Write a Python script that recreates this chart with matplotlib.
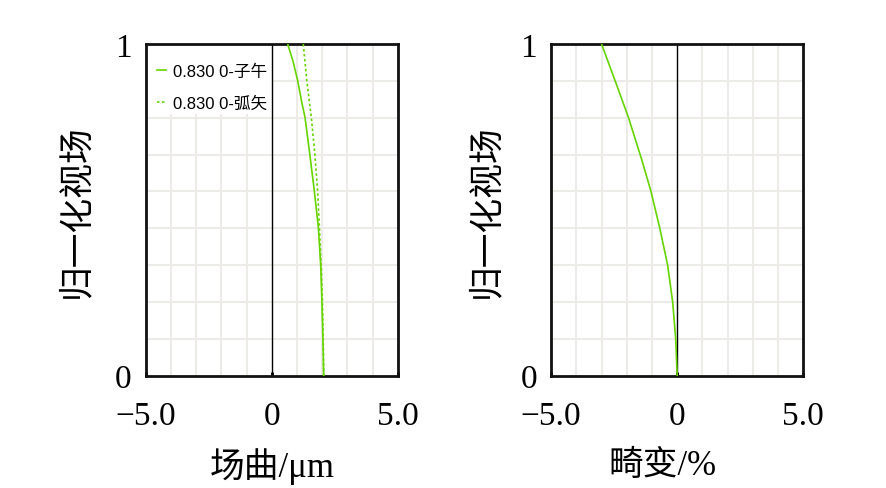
import numpy as np
import matplotlib
matplotlib.use("Agg")
import matplotlib.pyplot as plt
from matplotlib.patches import Rectangle

# Data
field_t = [0, 1/9, 2/9, 3/9, 4/9, 5/9, 6/9, 7/9, 0.828, 8/9, 0.949, 1.0]
tangential = [2.06, 2.03, 1.99, 1.94, 1.85, 1.69, 1.51, 1.32, 1.18, 1.03, 0.84, 0.63]
field_s = [0, 1/9, 2/9, 3/9, 4/9, 5/9, 6/9, 7/9, 8/9, 1.0]
sagittal = [2.06, 2.04, 2.01, 1.96, 1.89, 1.82, 1.71, 1.57, 1.39, 1.25]
field_d = [0, 1/9, 2/9, 3/9, 4/9, 5/9, 0.652, 7/9, 8/9, 1.0]
distortion = [0.0, -0.06, -0.18, -0.38, -0.69, -1.04, -1.41, -1.93, -2.46, -3.00]

xticks = [-5, 0, 5]
xticklabels = ["\u22125.0", "0", "5.0"]
yticks = [0, 1]
yticklabels = ["0", "1"]
legend_labels = ["0.830 0-子午", "0.830 0-弧矢"]
xlabels = ["场曲/μm", "畸变/%"]
ylabel = "归一化视场"

green = "#66d400"
serif_cjk = ["Liberation Serif", "Noto Sans CJK SC"]
sans_cjk = ["Liberation Sans", "Noto Sans CJK SC"]

fig = plt.figure(figsize=(8.86, 4.89), dpi=100)
ax1 = fig.add_axes([0.1645, 0.2297, 0.2845, 0.6783])
ax2 = fig.add_axes([0.622, 0.2297, 0.2847, 0.6783])

xlabel_x = [0.5, 0.44]
ylabel_x = [-0.273, -0.254]

for ax, xl, lx, ly in zip([ax1, ax2], xlabels, xlabel_x, ylabel_x):
    ax.set_xlim(-5, 5)
    ax.set_ylim(0, 1)
    ax.set_xticks(np.arange(-5, 5.01, 1), minor=True)
    ax.set_yticks(np.arange(0, 1.001, 1/9), minor=True)
    ax.grid(True, which="minor", color="#ecebe8", linewidth=1.5)
    ax.set_xticks(xticks)
    ax.set_xticklabels(xticklabels, family="Liberation Serif", fontsize=24)
    ax.set_yticks(yticks)
    ax.set_yticklabels(yticklabels, family="Liberation Serif", fontsize=24)
    ax.tick_params(which="minor", length=0)
    ax.tick_params(axis="x", which="major", direction="in", length=3, width=2, pad=18)
    ax.tick_params(axis="y", which="major", length=0, pad=10)
    for s in ax.spines.values():
        s.set_linewidth(2)
        s.set_color("#111111")
    ax.axvline(0, color="black", linewidth=1, zorder=2)
    ax.set_xlabel(xl, family=serif_cjk, fontsize=25)
    ax.set_ylabel(ylabel, family=serif_cjk, fontsize=25)
    ax.xaxis.label.set_va("center")
    ax.yaxis.label.set_va("center")
    ax.xaxis.set_label_coords(lx, -0.272)
    ax.yaxis.set_label_coords(ly, 0.5)

ax1.add_patch(Rectangle((0, 0.789), 0.5, 0.211, transform=ax1.transAxes,
                        facecolor="white", edgecolor="none", zorder=1.6))
ax1.plot(tangential, field_t, color=green, linewidth=1.2, label=legend_labels[0], zorder=3)
ax1.plot(sagittal, field_s, color=green, linewidth=1.2, linestyle=(0, (1.5, 1.5)),
         label=legend_labels[1], zorder=3)
ax1.legend(loc="upper left", bbox_to_anchor=(0.017, 0.962), frameon=False,
           handlelength=0.55, handletextpad=0.45, borderaxespad=0, borderpad=0.4,
           labelspacing=1.0, prop={"family": sans_cjk, "size": 12})

ax2.plot(distortion, field_d, color=green, linewidth=1.2, zorder=3)

fig.savefig("out.png", dpi=100)
